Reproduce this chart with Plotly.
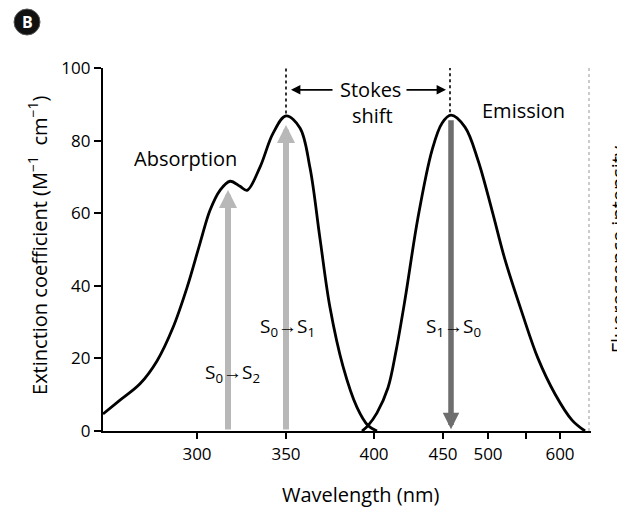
import plotly.graph_objects as go

# Schematic (non-linear) wavelength axis: positions in arbitrary axis units
tick_positions = [197, 286, 374, 443, 488, 526, 560]
tick_labels = ["300", "350", "400", "450", "500", "", "600"]
y_ticks = [0, 20, 40, 60, 80, 100]

absorption_x = [103, 120, 140, 157, 173, 187, 200, 210, 220, 230, 240, 247, 260, 273, 286, 300, 310, 320, 330, 343, 357, 368, 377]
absorption_y = [4.7, 8.5, 13, 19.3, 28.5, 39.5, 51.7, 60.8, 66.3, 68.8, 67.4, 66.3, 72.7, 82, 86.8, 83.5, 72.5, 53, 34, 17.8, 6.5, 1.5, 0]

emission_x = [362, 368, 377, 388, 396, 405, 418, 432, 442, 451, 465, 478, 492, 505, 522, 538, 555, 572, 585]
emission_y = [0, 1.5, 5, 11.9, 22, 36.2, 58.8, 77.3, 84.8, 87, 83.7, 74.6, 60.8, 47.2, 32.6, 20.0, 10.2, 3, 0]

s0s2_x, s0s2_top = 228, 66.4
s0s1_x, s0s1_top = 286, 84.3
s1s0_x, s1s0_top, s1s0_bottom = 451, 86, 0.5

FONT = "Open Sans"
LBL = 20

fig = go.Figure()
for xs, ys in ((absorption_x, absorption_y), (emission_x, emission_y)):
    fig.add_trace(go.Scatter(x=xs, y=ys, mode="lines",
                             line=dict(color="black", width=2.8, shape="spline", smoothing=1.0),
                             hoverinfo="skip", showlegend=False))

ann = []


def varrow(x, y_from, y_to, color, width):
    ann.append(dict(x=x, y=y_to, ax=x, ay=y_from, xref="x", yref="y", axref="x", ayref="y",
                    showarrow=True, arrowhead=2, arrowsize=0.6, arrowwidth=width,
                    arrowcolor=color, text=""))


varrow(s0s2_x, 0, s0s2_top, "#b8b8b8", 6)
varrow(s0s1_x, 0, s0s1_top, "#b8b8b8", 6)
varrow(s1s0_x, s1s0_top, s1s0_bottom, "#6e6e6e", 5.5)

# Stokes shift arrows
ann.append(dict(x=291, y=94, ax=334, ay=94, xref="x", yref="y", axref="x", ayref="y",
                showarrow=True, arrowhead=2, arrowsize=1.1, arrowwidth=1.7, arrowcolor="black", text=""))
ann.append(dict(x=446, y=94, ax=405, ay=94, xref="x", yref="y", axref="x", ayref="y",
                showarrow=True, arrowhead=2, arrowsize=1.1, arrowwidth=1.7, arrowcolor="black", text=""))


def label(x, y, text, size=LBL):
    ann.append(dict(x=x, y=y, xref="x", yref="y", text=text, showarrow=False,
                    font=dict(family=FONT, size=size, color="black")))


label(370, 94, "Stokes")
label(372, 87, "shift")
label(185, 75.2, "Absorption")
label(523, 88.4, "Emission")
label(232, 16, "S<sub>0</sub>\u2192S<sub>2</sub>", size=19)
label(287, 28.7, "S<sub>0</sub>\u2192S<sub>1</sub>", size=19)
label(453, 28.7, "S<sub>1</sub>\u2192S<sub>0</sub>", size=19)

# axis titles
ann.append(dict(xref="paper", yref="paper", x=-0.133, y=0.51, xanchor="center", yanchor="middle",
                text="Extinction coefficient (M<sup>\u22121</sup>  cm<sup>\u22121</sup>)", textangle=-90,
                showarrow=False, font=dict(family=FONT, size=LBL, color="black")))
ann.append(dict(xref="paper", yref="paper", x=0.527, y=-0.176, xanchor="center", yanchor="middle",
                text="Wavelength (nm)", showarrow=False,
                font=dict(family=FONT, size=LBL, color="black")))
ann.append(dict(xref="paper", yref="paper", x=1.057, y=0.5, xanchor="center", yanchor="middle",
                text="Fluorescence intensity", textangle=-90, showarrow=False,
                font=dict(family=FONT, size=LBL, color="black")))
# panel label
ann.append(dict(xref="paper", yref="paper", x=-0.1557, y=1.1267, xanchor="center", yanchor="middle",
                text="<b>B</b>", showarrow=False,
                font=dict(family=FONT, size=16, color="white")))

shapes = [
    dict(type="line", xref="x", yref="y", x0=286, x1=286, y0=87.5, y1=100,
         line=dict(color="black", width=1.6, dash="dot")),
    dict(type="line", xref="x", yref="y", x0=450, x1=450, y0=87.8, y1=100,
         line=dict(color="black", width=1.6, dash="dot")),
    dict(type="line", xref="x", yref="paper", x0=589, x1=589, y0=0, y1=1,
         line=dict(color="#b0b0b0", width=1.3, dash="dot")),
    dict(type="circle", xref="paper", yref="paper", x0=-0.1823, x1=-0.1291, y0=1.0909, y1=1.1625,
         fillcolor="#111", line=dict(color="#555", width=1)),
]

fig.update_layout(
    width=617, height=499,
    margin=dict(l=95, r=34, t=60, b=76),
    paper_bgcolor="white", plot_bgcolor="white",
    font=dict(family=FONT, size=17, color="black"),
    annotations=ann, shapes=shapes,
    xaxis=dict(range=[103, 591], tickvals=tick_positions, ticktext=tick_labels,
               showline=True, linecolor="black", linewidth=2.2, ticks="outside",
               ticklen=6, tickwidth=1.5, tickcolor="black", showgrid=False, zeroline=False,
               tickfont=dict(family=FONT, size=17), fixedrange=True),
    yaxis=dict(range=[0, 100], tickvals=y_ticks, showline=True, linecolor="black", linewidth=2.2,
               ticks="outside", ticklen=7, tickwidth=1.5, tickcolor="black", showgrid=False,
               zeroline=False, tickfont=dict(family=FONT, size=17), fixedrange=True),
)

fig.write_html("out.html")
